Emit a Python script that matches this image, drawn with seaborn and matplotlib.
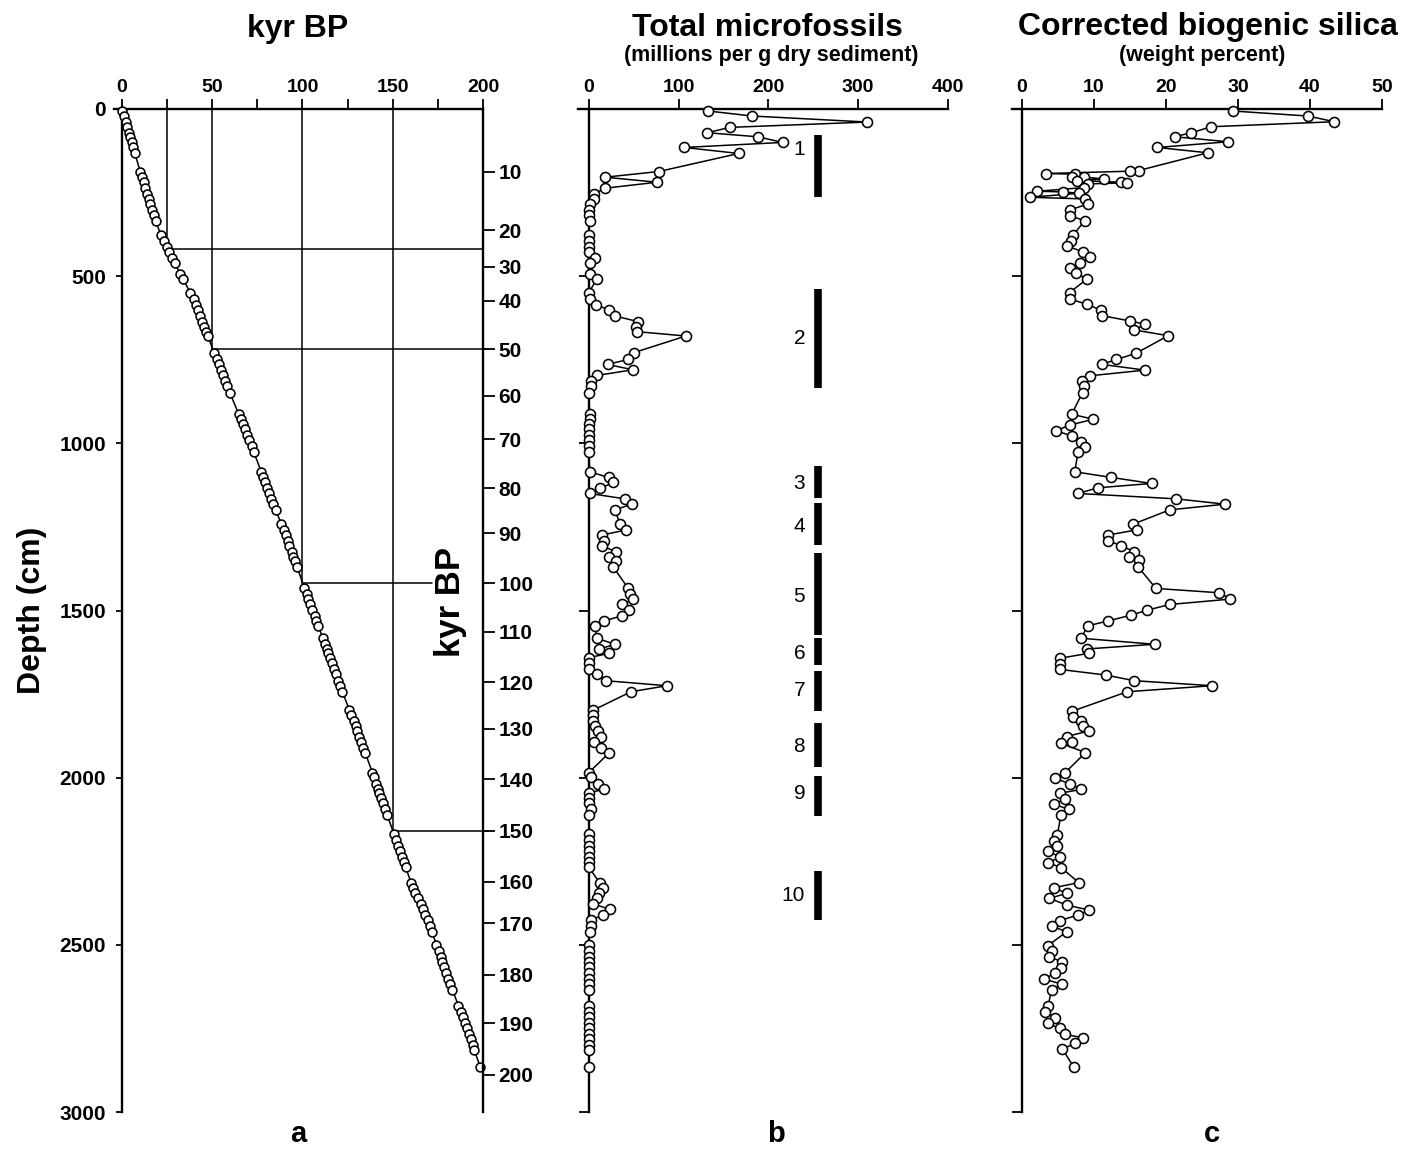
import matplotlib
matplotlib.use('Agg')
import matplotlib.pyplot as plt
import seaborn as sns

# ------------------------- sample depths (cm) -------------------------
depth_b = [6, 21, 39, 55, 71, 83, 100, 115, 133,
           187, 204, 219, 237, 254, 269, 285, 302, 317, 334,
           377, 394, 412, 429, 445, 461, 494, 509,
           549, 568, 586, 601, 619, 636, 651, 666, 679,
           729, 749, 764, 780, 797, 815, 830, 848,
           913, 927, 943, 958, 975, 990, 1007, 1025,
           1085, 1102, 1117, 1135, 1150, 1166, 1182, 1199,
           1242, 1259, 1274, 1291, 1307, 1324, 1339, 1352, 1369,
           1434, 1451, 1466, 1482, 1499, 1516, 1531, 1546,
           1583, 1601, 1616, 1628, 1641, 1658, 1675, 1691, 1710, 1725, 1743,
           1798, 1813, 1830, 1845, 1860, 1877, 1892, 1910, 1925,
           1985, 1999, 2019, 2035, 2045, 2060, 2077, 2095, 2112,
           2168, 2186, 2203, 2219, 2236, 2251, 2268,
           2314, 2329, 2344, 2361, 2378, 2394, 2411, 2426, 2444, 2461,
           2500, 2518, 2535, 2550, 2567, 2585, 2602, 2618, 2635,
           2682, 2700, 2717, 2735, 2750, 2767, 2783, 2800, 2815, 2866]

# ------------------------- a: age of each sample (kyr BP) -------------------------
age_a = [0.3, 1.1, 2.1, 3.0, 3.8, 4.5, 5.4, 6.2, 7.2,
         10.1, 11.1, 12.0, 13.0, 14.0, 14.8, 15.7, 16.7, 17.6, 18.6,
         21.6, 23.1, 24.7, 26.3, 27.7, 29.2, 32.4, 33.9,
         37.8, 39.7, 41.0, 42.1, 43.3, 44.5, 45.6, 46.6, 47.5,
         51.0, 52.5, 53.6, 54.7, 56.0, 57.3, 58.4, 59.7,
         64.7, 65.8, 67.1, 68.2, 69.5, 70.6, 71.8, 73.0,
         77.1, 78.2, 79.3, 80.5, 81.6, 82.8, 83.9, 85.2,
         88.3, 89.6, 90.6, 91.8, 92.8, 94.0, 95.0, 95.9, 97.0,
         101.1, 102.3, 103.3, 104.4, 105.5, 106.7, 107.7, 108.8,
         111.3, 112.5, 113.5, 114.3, 115.1, 116.3, 117.4, 118.5, 119.7, 120.8, 122.1,
         126.0, 127.1, 128.3, 129.4, 130.4, 131.5, 132.5, 133.7, 134.7,
         138.7, 139.7, 141.0, 142.0, 142.6, 143.6, 144.7, 145.9, 147.0,
         150.6, 151.8, 152.9, 153.9, 155.0, 156.0, 157.1,
         160.2, 161.4, 162.6, 164.0, 165.4, 166.7, 168.0, 169.3, 170.6, 171.7,
         174.2, 175.4, 176.5, 177.4, 178.5, 179.7, 180.8, 181.9, 183.1,
         186.4, 187.6, 188.8, 190.1, 191.0, 192.1, 193.2, 194.2, 195.2, 198.5]

# ------------------------- b: total microfossils -------------------------
fossils_b = [133, 182, 310, 157, 132, 188, 216, 106, 167,
             78, 18, 76, 18, 6, 6, 1, 0, 0, 1,
             0, 0, 0, 0, 7, 1, 1, 9,
             0, 1, 8, 23, 29, 55, 53, 54, 108,
             50, 44, 21, 49, 9, 3, 2, 0,
             1, 1, 0, 0, 0, 0, 0, 0,
             1, 22, 27, 13, 1, 40, 48, 29,
             35, 42, 15, 17, 15, 30, 23, 30, 27,
             44, 46, 49, 37, 45, 37, 17, 7,
             9, 29, 11, 23, 0, 0, 0, 9, 19, 87, 47,
             5, 5, 5, 7, 10, 14, 6, 14, 23,
             0, 2, 10, 17, 0, 0, 0, 2, 0,
             0, 0, 0, 0, 0, 0, 0,
             12, 16, 11, 9, 5, 24, 16, 2, 2, 1,
             0, 0, 0, 0, 0, 0, 0, 0, 0,
             0, 0, 0, 0, 0, 0, 0, 0, 0, 0]

# ------------------------- c: corrected biogenic silica -------------------------
depth_c = [6, 21, 38, 53, 71, 83, 98, 115, 131,
           184, 186, 193, 195, 202, 204, 209, 214, 219, 221, 224, 235, 246, 248, 252, 264, 269, 284, 302, 319, 334,
           377, 394, 410, 427, 444, 461, 476, 491, 509,
           549, 568, 584, 601, 618, 634, 644, 661, 678,
           731, 749, 764, 781, 798, 814, 830, 848,
           913, 928, 945, 962, 978, 995, 1010, 1025,
           1085, 1102, 1120, 1133, 1150, 1166, 1182, 1199,
           1242, 1259, 1274, 1291, 1307, 1324, 1341, 1349, 1369,
           1434, 1447, 1466, 1482, 1499, 1514, 1531, 1546,
           1583, 1601, 1615, 1628, 1643, 1660, 1676, 1693, 1710, 1725, 1743,
           1801, 1818, 1830, 1845, 1860, 1877, 1892, 1897, 1925,
           1987, 2002, 2019, 2035, 2047, 2064, 2079, 2095, 2112,
           2171, 2188, 2204, 2219, 2238, 2254, 2269,
           2314, 2329, 2346, 2361, 2381, 2396, 2411, 2428, 2444, 2461,
           2502, 2518, 2535, 2552, 2568, 2585, 2602, 2618, 2635,
           2683, 2702, 2718, 2735, 2750, 2768, 2778, 2794, 2812, 2866]
silica_c = [29.3, 39.7, 43.4, 26.3, 23.5, 21.2, 28.6, 18.8, 25.8,
            16.2, 15.0, 3.3, 7.4, 6.9, 8.6, 11.4, 7.6, 13.8, 14.6, 9.1, 8.6, 2.1, 5.7, 7.9, 1.1, 8.7, 9.2, 6.6, 6.6, 8.7,
            7.1, 6.8, 6.3, 8.4, 9.5, 8.0, 6.6, 7.5, 9.0,
            6.6, 6.6, 9.0, 10.9, 11.1, 15.0, 17.1, 15.6, 20.3,
            15.8, 13.1, 11.1, 17.1, 9.4, 8.3, 8.6, 8.4,
            6.9, 9.9, 6.7, 4.7, 6.9, 8.2, 8.8, 7.8,
            7.3, 12.4, 18.0, 10.5, 7.8, 21.4, 28.2, 20.5,
            15.4, 15.9, 12.0, 12.0, 13.8, 15.6, 14.8, 16.2, 16.1,
            18.6, 27.4, 28.9, 20.5, 17.4, 15.1, 12.0, 9.1,
            8.2, 18.4, 9.0, 9.3, 5.2, 5.2, 5.2, 11.6, 15.6, 26.4, 14.6,
            7.0, 7.1, 8.2, 8.5, 9.3, 6.2, 6.9, 5.4, 8.8,
            5.9, 4.6, 6.7, 8.2, 5.2, 6.0, 4.4, 6.5, 5.4,
            4.9, 4.5, 4.9, 3.6, 5.3, 3.6, 5.4,
            7.9, 4.4, 6.2, 3.8, 6.2, 9.3, 7.7, 5.2, 4.1, 6.2,
            3.6, 4.1, 3.8, 5.6, 5.4, 4.6, 3.0, 5.6, 4.1,
            3.6, 3.2, 4.6, 3.6, 5.2, 6.0, 8.5, 7.4, 5.6, 7.2]

# ------------------------- age scale on the right of panel a -------------------------
age_ticks = [10, 20, 30, 40, 50, 60, 70, 80, 90, 100,
             110, 120, 130, 140, 150, 160, 170, 180, 190, 200]
age_tick_depths = [188, 362, 472, 573, 719, 858, 988, 1134, 1269, 1418,
                   1564, 1714, 1854, 2004, 2159, 2312, 2435, 2590, 2734, 2889]

# guide lines in panel a (age, depth, where the horizontal stops)
guide_age = [25, 50, 100, 150]
guide_depth = [419, 719, 1418, 2159]
guide_end = [200, 203, 171.5, 203]

# ------------------------- zones in panel b -------------------------
zone_labels = ['1', '2', '3', '4', '5', '6', '7', '8', '9', '10']
zone_top = [78, 539, 1068, 1178, 1328, 1582, 1681, 1837, 1995, 2279]
zone_bottom = [263, 835, 1164, 1304, 1573, 1663, 1801, 1968, 2115, 2426]
zone_label_depth = [122, 686, 1120, 1249, 1459, 1628, 1738, 1907, 2047, 2351]

# ------------------------- style -------------------------
sns.set_style('ticks', {'axes.edgecolor': 'black', 'xtick.color': 'black',
                        'ytick.color': 'black', 'text.color': 'black'})
plt.rcParams['font.family'] = ['Liberation Sans', 'DejaVu Sans']
plt.rcParams['font.weight'] = 'bold'

W, H = 1420, 1149


def fx(px):
    return px / W


def fy(py):
    return 1 - py / H


fig = plt.figure(figsize=(W / 100, H / 100), dpi=100)
bot, hgt = fy(1112), 1003 / H
ax_a = fig.add_axes([fx(114), bot, 369 / W, hgt])
ax_b = fig.add_axes([fx(578), bot, 370 / W, hgt])
ax_c = fig.add_axes([fx(1012), bot, 370 / W, hgt])

line_kw = dict(color='black', linewidth=1.1, marker='o', markerfacecolor='white',
               markeredgecolor='black', markeredgewidth=1.15, sort=False,
               estimator=None, clip_on=False, legend=False, zorder=4)

sns.lineplot(x=age_a, y=depth_b, ax=ax_a, markersize=6.4, **line_kw)
sns.lineplot(x=fossils_b, y=depth_b, ax=ax_b, markersize=7.2, **line_kw)
sns.lineplot(x=silica_c, y=depth_c, ax=ax_c, markersize=7.2, **line_kw)


def style_axis(ax, xlim, xticks, xlabels, ylabels, ylen, ypad):
    ax.set_xlim(*xlim)
    ax.set_ylim(3000, 0)
    ax.xaxis.tick_top()
    ax.spines['bottom'].set_visible(False)
    ax.spines['right'].set_visible(False)
    ax.spines['left'].set_position(('data', 0))
    for s in ['top', 'left']:
        ax.spines[s].set_linewidth(1.7)
    ax.set_xticks(xticks)
    ax.set_xticklabels(xlabels)
    ax.set_yticks([0, 500, 1000, 1500, 2000, 2500, 3000])
    ax.set_yticklabels(ylabels)
    ax.tick_params(axis='x', direction='out', length=7.2, width=1.3, labelsize=14, pad=2)
    ax.tick_params(axis='y', direction='out', length=ylen, width=1.3, labelsize=15, pad=ypad)
    ax.set_xlabel('')
    ax.set_ylabel('')


style_axis(ax_a, (-4.4, 200), list(range(0, 201, 25)),
           ['0', '', '50', '', '100', '', '150', '', '200'],
           ['0', '500', '1000', '1500', '2000', '2500', '3000'], 4.5, 7)
style_axis(ax_b, (-12, 400), [0, 100, 200, 300, 400],
           ['0', '100', '200', '300', '400'], [''] * 7, 7.2, 2)
style_axis(ax_c, (-1.4, 50), [0, 10, 20, 30, 40, 50],
           ['0', '10', '20', '30', '40', '50'], [''] * 7, 7.2, 2)

# right-hand age axis of panel a
ax_r = ax_a.twinx()
ax_r.set_ylim(3000, 0)
for s in ['top', 'bottom', 'left']:
    ax_r.spines[s].set_visible(False)
ax_r.spines['right'].set_linewidth(1.7)
ax_r.set_yticks(age_tick_depths)
ax_r.set_yticklabels([str(v) for v in age_ticks])
ax_r.tick_params(axis='y', direction='out', length=8.5, width=1.3, labelsize=15, pad=2.5)

# guide lines
for ga, gd, ge in zip(guide_age, guide_depth, guide_end):
    ax_a.plot([ga, ga], [0, gd], color='black', lw=1.1, zorder=2)
    ax_a.plot([ga, ge], [gd, gd], color='black', lw=1.1, zorder=2, clip_on=False)

ax_a.text(182, 1475, 'kyr BP', rotation=90, ha='center', va='center',
          fontsize=25, fontweight='bold')

# zones
ax_b.vlines([255] * len(zone_top), zone_top, zone_bottom, color='black', lw=5.5)
for lab, d in zip(zone_labels, zone_label_depth):
    ax_b.text(241, d, lab, ha='right', va='center', fontsize=15, fontweight='normal')

# titles
fig.text(fx(298), fy(37), 'kyr BP', ha='center', va='baseline', fontsize=23, fontweight='bold')
fig.text(fx(767), fy(36), 'Total microfossils', ha='center', va='baseline',
         fontsize=23, fontweight='bold')
fig.text(fx(771), fy(61), '(millions per g dry sediment)', ha='center', va='baseline',
         fontsize=15.5, fontweight='bold')
fig.text(fx(1208), fy(35), 'Corrected biogenic silica', ha='center', va='baseline',
         fontsize=23, fontweight='bold')
fig.text(fx(1202), fy(61), '(weight percent)', ha='center', va='baseline',
         fontsize=15.5, fontweight='bold')
fig.text(fx(32), fy(610), 'Depth (cm)', rotation=90, ha='center', va='center',
         fontsize=23, fontweight='bold')

for lab, px in zip(['a', 'b', 'c'], [298, 776, 1212]):
    fig.text(fx(px), fy(1142), lab, ha='center', va='baseline', fontsize=21, fontweight='bold')

fig.savefig('out.png', dpi=100)
